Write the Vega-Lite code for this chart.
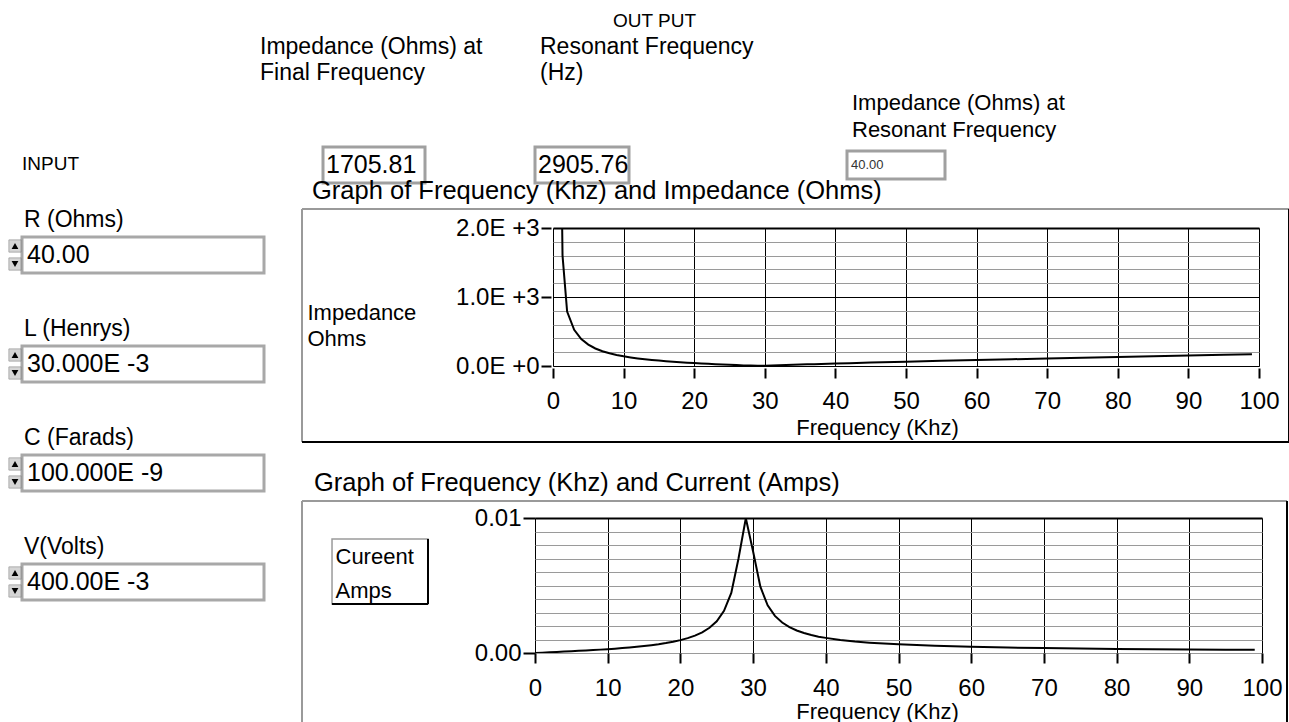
{
  "$schema": "https://vega.github.io/schema/vega-lite/v6.json",
  "background": "white",
  "padding": {"left": 7, "top": 11, "right": 0, "bottom": 0},
  "config": {
    "font": "Liberation Sans",
    "view": {"stroke": null},
    "title": {"fontWeight": "normal", "color": "black", "font": "Liberation Sans"},
    "axis": {"labelColor": "black", "titleColor": "black", "titleFontWeight": "normal", "labelFont": "Liberation Sans", "titleFont": "Liberation Sans"}
  },
  "datasets": {
    "impedance": [
      {"f": 1.3, "z": 2000}, {"f": 1.35, "z": 1600}, {"f": 2, "z": 790}, {"f": 3, "z": 525}, {"f": 4, "z": 390},
      {"f": 5, "z": 310}, {"f": 6, "z": 254}, {"f": 7, "z": 214}, {"f": 8, "z": 184}, {"f": 9, "z": 160},
      {"f": 10, "z": 140}, {"f": 11, "z": 124}, {"f": 12, "z": 110}, {"f": 13, "z": 98}, {"f": 14, "z": 87},
      {"f": 15, "z": 78}, {"f": 16, "z": 69}, {"f": 17, "z": 62}, {"f": 18, "z": 55}, {"f": 19, "z": 48},
      {"f": 20, "z": 42}, {"f": 21, "z": 36}, {"f": 22, "z": 31}, {"f": 23, "z": 26}, {"f": 24, "z": 21},
      {"f": 25, "z": 17}, {"f": 26, "z": 13}, {"f": 27, "z": 9}, {"f": 28, "z": 6}, {"f": 29, "z": 4},
      {"f": 30, "z": 5}, {"f": 31, "z": 8}, {"f": 32, "z": 11}, {"f": 33, "z": 15}, {"f": 34, "z": 18},
      {"f": 35, "z": 21}, {"f": 36, "z": 24}, {"f": 37, "z": 27}, {"f": 38, "z": 30}, {"f": 39, "z": 33},
      {"f": 40, "z": 36}, {"f": 42, "z": 41}, {"f": 45, "z": 50}, {"f": 50, "z": 62}, {"f": 55, "z": 75},
      {"f": 60, "z": 87}, {"f": 65, "z": 98}, {"f": 70, "z": 109}, {"f": 75, "z": 120}, {"f": 80, "z": 131},
      {"f": 85, "z": 142}, {"f": 90, "z": 152}, {"f": 95, "z": 162}, {"f": 99, "z": 171}
    ],
    "current": [
      {"f": 0, "i": 0}, {"f": 1, "i": 0.000025}, {"f": 2, "i": 0.00005}, {"f": 3, "i": 0.000076}, {"f": 4, "i": 0.000102},
      {"f": 5, "i": 0.00013}, {"f": 6, "i": 0.000158}, {"f": 7, "i": 0.000187}, {"f": 8, "i": 0.000218}, {"f": 9, "i": 0.00025},
      {"f": 10, "i": 0.000285}, {"f": 11, "i": 0.000323}, {"f": 12, "i": 0.000364}, {"f": 13, "i": 0.000409}, {"f": 14, "i": 0.000458},
      {"f": 15, "i": 0.000514}, {"f": 16, "i": 0.000577}, {"f": 17, "i": 0.000649}, {"f": 18, "i": 0.000734}, {"f": 19, "i": 0.000834},
      {"f": 20, "i": 0.000955}, {"f": 21, "i": 0.0011}, {"f": 22, "i": 0.00129}, {"f": 23, "i": 0.00153}, {"f": 24, "i": 0.00187},
      {"f": 25, "i": 0.00235}, {"f": 26, "i": 0.00312}, {"f": 27, "i": 0.00445}, {"f": 28, "i": 0.00702}, {"f": 29, "i": 0.00998},
      {"f": 30, "i": 0.00752}, {"f": 31, "i": 0.00491}, {"f": 32, "i": 0.00353}, {"f": 33, "i": 0.00275}, {"f": 34, "i": 0.00226},
      {"f": 35, "i": 0.00192}, {"f": 36, "i": 0.00167}, {"f": 37, "i": 0.00148}, {"f": 38, "i": 0.00133}, {"f": 39, "i": 0.00121},
      {"f": 40, "i": 0.00112}, {"f": 42, "i": 0.00097}, {"f": 44, "i": 0.000855}, {"f": 46, "i": 0.000768}, {"f": 48, "i": 0.000698},
      {"f": 50, "i": 0.00064}, {"f": 55, "i": 0.000535}, {"f": 60, "i": 0.000461}, {"f": 65, "i": 0.000407}, {"f": 70, "i": 0.000366},
      {"f": 75, "i": 0.000333}, {"f": 80, "i": 0.000305}, {"f": 85, "i": 0.000282}, {"f": 90, "i": 0.000263}, {"f": 95, "i": 0.000246},
      {"f": 99, "i": 0.000234}
    ],
    "inputs": [
      {"param": "R (Ohms)", "value": "40.00"},
      {"param": "L (Henrys)", "value": "30.000E -3"},
      {"param": "C (Farads)", "value": "100.000E -9"},
      {"param": "V(Volts)", "value": "400.00E -3"}
    ],
    "spin": [
      {"param": "R (Ohms)"}, {"param": "L (Henrys)"}, {"param": "C (Farads)"}, {"param": "V(Volts)"}
    ]
  },
  "title": {"text": "OUT PUT", "anchor": "start", "frame": "group", "dx": 591, "offset": 4, "fontSize": 19},
  "bounds": "flush",
  "spacing": 81,
  "vconcat": [
    {
      "hconcat": [
        {"width": 301, "height": 10, "data": {"values": [{}]}, "mark": {"type": "point", "opacity": 0}},
        {
          "width": 102, "height": 36,
          "view": {"stroke": "#a0a0a0", "strokeWidth": 3, "fill": "white"},
          "title": {"text": ["Impedance (Ohms) at", "Final Frequency"], "anchor": "start", "frame": "group", "dx": -63, "offset": 62, "fontSize": 23, "lineHeight": 26},
          "data": {"values": [{"v": "1705.81"}]},
          "mark": {"type": "text", "align": "left", "fontSize": 25, "color": "black"},
          "encoding": {"text": {"field": "v"}, "x": {"value": 3}}
        },
        {"width": 110, "height": 10, "data": {"values": [{}]}, "mark": {"type": "point", "opacity": 0}},
        {
          "width": 94, "height": 36,
          "view": {"stroke": "#a0a0a0", "strokeWidth": 3, "fill": "white"},
          "title": {"text": ["Resonant Frequency", "(Hz)"], "anchor": "start", "frame": "group", "dx": 5, "offset": 62, "fontSize": 23, "lineHeight": 26},
          "data": {"values": [{"v": "2905.76"}]},
          "mark": {"type": "text", "align": "left", "fontSize": 25, "color": "black"},
          "encoding": {"text": {"field": "v"}, "x": {"value": 3}}
        },
        {"width": 218, "height": 10, "data": {"values": [{}]}, "mark": {"type": "point", "opacity": 0}},
        {
          "width": 98, "height": 28,
          "view": {"stroke": "#a0a0a0", "strokeWidth": 3, "fill": "white"},
          "title": {"text": ["Impedance (Ohms) at", "Resonant Frequency"], "anchor": "start", "frame": "group", "dx": 5, "offset": 9, "fontSize": 22, "lineHeight": 27},
          "data": {"values": [{"v": "40.00"}]},
          "mark": {"type": "text", "align": "left", "fontSize": 13, "color": "#333333", "letterSpacing": 1.5},
          "encoding": {"text": {"field": "v"}, "x": {"value": 4}}
        }
      ],
      "spacing": 0,
      "bounds": "flush",
      "center": true
    },
    {
      "hconcat": [
        {
          "width": 242, "height": 381,
          "title": {"text": "INPUT", "anchor": "start", "frame": "group", "dx": 0, "offset": 35, "fontSize": 19},
          "layer": [
            {
              "data": {"name": "inputs"},
              "mark": {"type": "rect", "fill": "white", "stroke": "#a8a8a8", "strokeWidth": 3},
              "encoding": {"y": {"field": "param", "type": "nominal", "sort": null, "axis": null, "scale": {"paddingInner": 0.6697, "paddingOuter": 0.0826}}}
            },
            {
              "data": {"name": "inputs"},
              "mark": {"type": "text", "align": "left", "baseline": "middle", "fontSize": 25, "color": "black"},
              "encoding": {
                "y": {"field": "param", "type": "nominal", "sort": null, "axis": null},
                "x": {"value": 5},
                "text": {"field": "value"}
              }
            },
            {
              "data": {"name": "inputs"},
              "mark": {"type": "text", "align": "left", "baseline": "alphabetic", "fontSize": 23, "dy": -10, "color": "black"},
              "encoding": {
                "y": {"field": "param", "type": "nominal", "sort": null, "axis": null, "bandPosition": 0},
                "x": {"value": 2},
                "text": {"field": "param"}
              }
            },
            {
              "data": {"name": "spin"},
              "mark": {"type": "point", "shape": "square", "size": 150, "filled": true, "color": "#c4c4c4", "stroke": "#777777", "strokeWidth": 0.8},
              "encoding": {"y": {"field": "param", "type": "nominal", "sort": null, "axis": null, "bandPosition": 0.25}, "x": {"value": -7}}
            },
            {
              "data": {"name": "spin"},
              "mark": {"type": "point", "shape": "square", "size": 150, "filled": true, "color": "#c4c4c4", "stroke": "#777777", "strokeWidth": 0.8},
              "encoding": {"y": {"field": "param", "type": "nominal", "sort": null, "axis": null, "bandPosition": 0.75}, "x": {"value": -7}}
            },
            {
              "data": {"name": "spin"},
              "mark": {"type": "point", "shape": "triangle-up", "size": 45, "filled": true, "color": "black", "opacity": 1},
              "encoding": {"y": {"field": "param", "type": "nominal", "sort": null, "axis": null, "bandPosition": 0.25}, "x": {"value": -7}}
            },
            {
              "data": {"name": "spin"},
              "mark": {"type": "point", "shape": "triangle-down", "size": 45, "filled": true, "color": "black", "opacity": 1},
              "encoding": {"y": {"field": "param", "type": "nominal", "sort": null, "axis": null, "bandPosition": 0.75}, "x": {"value": -7}}
            }
          ]
        },
        {
          "vconcat": [
            {
              "hconcat": [
                {"width": 18, "height": 10, "data": {"values": [{}]}, "mark": {"type": "point", "opacity": 0}},
                {
                  "width": 706, "height": 138,
                  "view": {"stroke": "#9a9a9a", "strokeWidth": 1},
                  "title": {"text": "Graph of Frequency (Khz) and Impedance (Ohms)", "anchor": "start", "frame": "group", "dx": -241, "offset": 4, "fontSize": 25.5},
                  "layer": [
                    {
                      "data": {"name": "impedance"},
                      "mark": {"type": "line", "color": "black", "strokeWidth": 2, "clip": true},
                      "encoding": {
                        "x": {
                          "field": "f", "type": "quantitative",
                          "scale": {"domain": [0, 100], "nice": false, "zero": false},
                          "axis": {
                            "values": [0, 10, 20, 30, 40, 50, 60, 70, 80, 90, 100], "tickCount": 30,
                            "grid": true, "gridColor": "black", "gridWidth": 1, "gridOpacity": 1,
                            "domain": false, "ticks": true, "tickColor": "black", "tickSize": 10, "tickWidth": 2, "offset": 2,
                            "labelFontSize": 24, "labelPadding": 11, "labelFlush": false, "labelOverlap": false,
                            "title": "Frequency (Khz)", "titleFontSize": 22, "titleX": 324, "titleY": 59, "titleBaseline": "middle", "titleAlign": "center"
                          }
                        },
                        "y": {
                          "field": "z", "type": "quantitative",
                          "scale": {"domain": [0, 2000], "nice": false},
                          "axis": {
                            "values": [0, 200, 400, 600, 800, 1000, 1200, 1400, 1600, 1800, 2000], "tickCount": 30,
                            "grid": true,
                            "gridColor": {"condition": {"test": "datum.value % 1000 === 0", "value": "black"}, "value": "#9a9a9a"},
                            "gridWidth": {"condition": {"test": "datum.value === 2000", "value": 2}, "value": 1},
                            "gridOpacity": 1,
                            "domain": false, "tickColor": "black", "tickSize": 10, "tickWidth": 2,
                            "tickOpacity": {"condition": {"test": "datum.value % 1000 === 0", "value": 1}, "value": 0},
                            "offset": 2,
                            "labelExpr": "datum.value === 0 ? '0.0E +0' : (datum.value === 1000 ? '1.0E +3' : (datum.value === 2000 ? '2.0E +3' : ''))",
                            "labelFontSize": 24, "labelPadding": 2, "labelOverlap": false, "labelFlush": false,
                            "title": ["Impedance", "Ohms"], "titleAngle": 0, "titleAlign": "left", "titleBaseline": "top",
                            "titleX": -244, "titleY": 74, "titleFontSize": 22, "titleLineHeight": 26
                          }
                        }
                      }
                    },
                    {
                      "data": {"values": [{}]},
                      "mark": {"type": "rule", "color": "#9a9a9a", "strokeWidth": 2},
                      "encoding": {"x": {"datum": -35.55, "type": "quantitative"}, "x2": {"datum": 104.25}, "y": {"datum": 2275, "type": "quantitative"}}
                    },
                    {
                      "data": {"values": [{}]},
                      "mark": {"type": "rule", "color": "#9a9a9a", "strokeWidth": 2},
                      "encoding": {"x": {"datum": -35.55, "type": "quantitative"}, "y": {"datum": 2275, "type": "quantitative"}, "y2": {"datum": -1101}}
                    },
                    {
                      "data": {"values": [{}]},
                      "mark": {"type": "rule", "color": "black", "strokeWidth": 2},
                      "encoding": {"x": {"datum": 104.25, "type": "quantitative"}, "y": {"datum": 2275, "type": "quantitative"}, "y2": {"datum": -1101}}
                    },
                    {
                      "data": {"values": [{}]},
                      "mark": {"type": "rule", "color": "black", "strokeWidth": 2},
                      "encoding": {"x": {"datum": -35.55, "type": "quantitative"}, "x2": {"datum": 104.25}, "y": {"datum": -1101, "type": "quantitative"}}
                    }
                  ]
                }
              ],
              "spacing": 0,
              "bounds": "flush"
            },
            {
              "width": 727, "height": 135,
              "view": {"stroke": "#9a9a9a", "strokeWidth": 1},
              "title": {"text": "Graph of Frequency (Khz) and Current (Amps)", "anchor": "start", "frame": "group", "dx": -221, "offset": 3, "fontSize": 25.5},
              "layer": [
                {
                  "data": {"name": "current"},
                  "mark": {"type": "line", "color": "black", "strokeWidth": 2, "clip": true},
                  "encoding": {
                    "x": {
                      "field": "f", "type": "quantitative",
                      "scale": {"domain": [0, 100], "nice": false, "zero": false},
                      "axis": {
                        "values": [0, 10, 20, 30, 40, 50, 60, 70, 80, 90, 100], "tickCount": 30,
                        "grid": true, "gridColor": "black", "gridWidth": 1, "gridOpacity": 1,
                        "domain": false, "ticks": true, "tickColor": "black", "tickSize": 10, "tickWidth": 2, "offset": 0,
                        "labelFontSize": 24, "labelPadding": 13, "labelFlush": false, "labelOverlap": false,
                        "title": "Frequency (Khz)", "titleFontSize": 22, "titleX": 342, "titleY": 58, "titleBaseline": "middle", "titleAlign": "center"
                      }
                    },
                    "y": {
                      "field": "i", "type": "quantitative",
                      "scale": {"domain": [0, 0.01], "nice": false},
                      "axis": {
                        "values": [0, 0.001, 0.002, 0.003, 0.004, 0.005, 0.006, 0.007, 0.008, 0.009, 0.01], "tickCount": 30,
                        "grid": true,
                        "gridColor": {"condition": {"test": "datum.value === 0.01", "value": "black"}, "value": "#9a9a9a"},
                        "gridWidth": {"condition": {"test": "datum.value === 0.01", "value": 2}, "value": 1},
                        "gridOpacity": 1,
                        "domain": false, "tickColor": "black", "tickSize": 12, "tickWidth": 2,
                        "tickOpacity": {"condition": {"test": "datum.value === 0 || datum.value === 0.01", "value": 1}, "value": 0},
                        "offset": 0,
                        "labelExpr": "datum.value === 0 ? '0.00' : (datum.value === 0.01 ? '0.01' : '')",
                        "labelFontSize": 24, "labelPadding": 2, "labelOverlap": false, "labelFlush": false,
                        "title": ["Cureent", "Amps"], "titleAngle": 0, "titleAlign": "left", "titleBaseline": "top",
                        "titleX": -200, "titleY": 28, "titleFontSize": 22, "titleLineHeight": 34
                      }
                    }
                  }
                },
                {
                  "data": {"values": [{}]},
                  "mark": {"type": "rule", "color": "#9a9a9a", "strokeWidth": 2},
                  "encoding": {"x": {"datum": -32.05, "type": "quantitative"}, "x2": {"datum": 103.44}, "y": {"datum": 0.01126, "type": "quantitative"}}
                },
                {
                  "data": {"values": [{}]},
                  "mark": {"type": "rule", "color": "#9a9a9a", "strokeWidth": 2},
                  "encoding": {"x": {"datum": -32.05, "type": "quantitative"}, "y": {"datum": 0.01126, "type": "quantitative"}, "y2": {"datum": -0.0052}}
                },
                {
                  "data": {"values": [{}]},
                  "mark": {"type": "rule", "color": "black", "strokeWidth": 2},
                  "encoding": {"x": {"datum": 103.44, "type": "quantitative"}, "y": {"datum": 0.01126, "type": "quantitative"}, "y2": {"datum": -0.0052}}
                },
                {
                  "data": {"values": [{}]},
                  "mark": {"type": "rect", "fill": null, "fillOpacity": 0, "stroke": "#9a9a9a", "strokeWidth": 1.5},
                  "encoding": {"x": {"datum": -27.92, "type": "quantitative"}, "x2": {"datum": -14.72}, "y": {"datum": 0.008444, "type": "quantitative"}, "y2": {"datum": 0.00363}}
                },
                {
                  "data": {"values": [{}]},
                  "mark": {"type": "rule", "color": "black", "strokeWidth": 2},
                  "encoding": {"x": {"datum": -14.72, "type": "quantitative"}, "y": {"datum": 0.008444, "type": "quantitative"}, "y2": {"datum": 0.00363}}
                },
                {
                  "data": {"values": [{}]},
                  "mark": {"type": "rule", "color": "black", "strokeWidth": 2},
                  "encoding": {"x": {"datum": -27.92, "type": "quantitative"}, "x2": {"datum": -14.72}, "y": {"datum": 0.00363, "type": "quantitative"}}
                }
              ]
            }
          ],
          "spacing": 290,
          "bounds": "flush"
        }
      ],
      "spacing": 271,
      "bounds": "flush"
    }
  ]
}
